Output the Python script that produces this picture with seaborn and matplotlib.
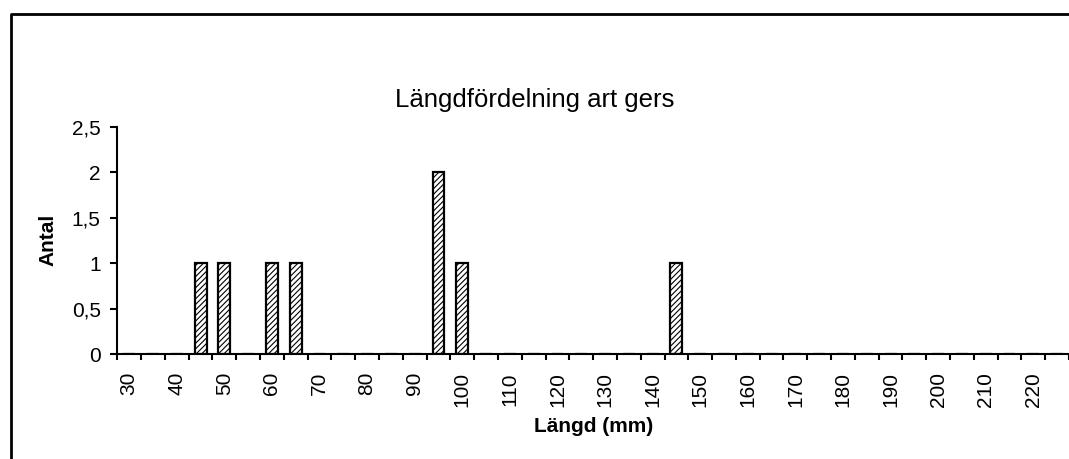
import matplotlib
matplotlib.use("Agg")
import matplotlib.pyplot as plt
from matplotlib.lines import Line2D
import seaborn as sns
import pandas as pd

# Data
lengths = [30, 35, 40, 45, 50, 55, 60, 65, 70, 75, 80, 85, 90, 95, 100, 105,
           110, 115, 120, 125, 130, 135, 140, 145, 150, 155, 160, 165, 170, 175,
           180, 185, 190, 195, 200, 205, 210, 215, 220, 225]
counts = [0, 0, 0, 1, 1, 0, 1, 1, 0, 0, 0, 0, 0, 2, 1, 0,
          0, 0, 0, 0, 0, 0, 0, 1, 0, 0, 0, 0, 0, 0,
          0, 0, 0, 0, 0, 0, 0, 0, 0, 0]
tick_labels = ["30", "40", "50", "60", "70", "80", "90", "100", "110", "120",
               "130", "140", "150", "160", "170", "180", "190", "200", "210", "220"]
y_ticks = [0, 0.5, 1, 1.5, 2, 2.5]
y_tick_labels = ["0", "0,5", "1", "1,5", "2", "2,5"]

title = "Längdfördelning art gers"
xlabel = "Längd (mm)"
ylabel = "Antal"

sns.set_style("white")
plt.rcParams["font.family"] = ["Liberation Sans", "DejaVu Sans"]
plt.rcParams["hatch.linewidth"] = 0.8
for k in ["text.color", "axes.labelcolor", "xtick.color", "ytick.color"]:
    plt.rcParams[k] = "black"

W, H = 1069, 459
fig = plt.figure(figsize=(W / 100, H / 100), dpi=100)
ax = fig.add_axes([117.3 / W, (H - 354) / H, (1069 - 117.3) / W, (354 - 126.7) / H])

df = pd.DataFrame({"length": [str(v) for v in lengths], "count": counts})
sns.barplot(data=df, x="length", y="count", order=df["length"], color="white",
            edgecolor="black", linewidth=1.6, width=0.5, ax=ax)
for p in ax.patches:
    p.set_hatch("//////")

ax.set_xlim(-0.5, len(lengths) - 0.5)
ax.set_ylim(0, 2.5)

# x ticks: labels on every other category, tick marks between categories
ax.set_xticks(range(0, len(lengths), 2))
ax.set_xticklabels(tick_labels, rotation=90, fontsize=15, color="black")
ax.set_xticks([i - 0.5 for i in range(len(lengths) + 1)], minor=True)
ax.tick_params(axis="x", which="major", length=0, pad=13)
ax.tick_params(axis="x", which="minor", length=4, width=1.5, direction="out",
               bottom=True, color="black")

ax.set_yticks(y_ticks)
ax.set_yticklabels(y_tick_labels, fontsize=15, color="black")
ax.tick_params(axis="y", which="major", length=5, width=1.5, direction="out",
               left=True, pad=7, color="black")

for s in ["top", "right"]:
    ax.spines[s].set_visible(False)
for s in ["left", "bottom"]:
    ax.spines[s].set_visible(True)
    ax.spines[s].set_linewidth(1.5)
    ax.spines[s].set_color("black")
ax.grid(False)

ax.set_xlabel(xlabel, fontsize=15, fontweight="bold", color="black")
ax.set_ylabel(ylabel, fontsize=15, fontweight="bold", color="black")
ax.xaxis.set_label_coords(0.5, (354 - 426) / (354 - 126.7))
ax.xaxis.label.set_va("center")
ax.yaxis.set_label_coords((48 - 117.3) / (1069 - 117.3), 0.5)
ax.yaxis.label.set_va("center")

fig.text(535 / W, (H - 100) / H, title, fontsize=18.5, ha="center", va="center",
         color="black")

# outer chart frame (left and top edges visible)
fx = 11 / W
fy = (H - 13.5) / H
fig.add_artist(Line2D([fx, fx, 1.0], [0, fy, fy], transform=fig.transFigure,
                      color="black", linewidth=2))

fig.savefig("out.png", dpi=100)
